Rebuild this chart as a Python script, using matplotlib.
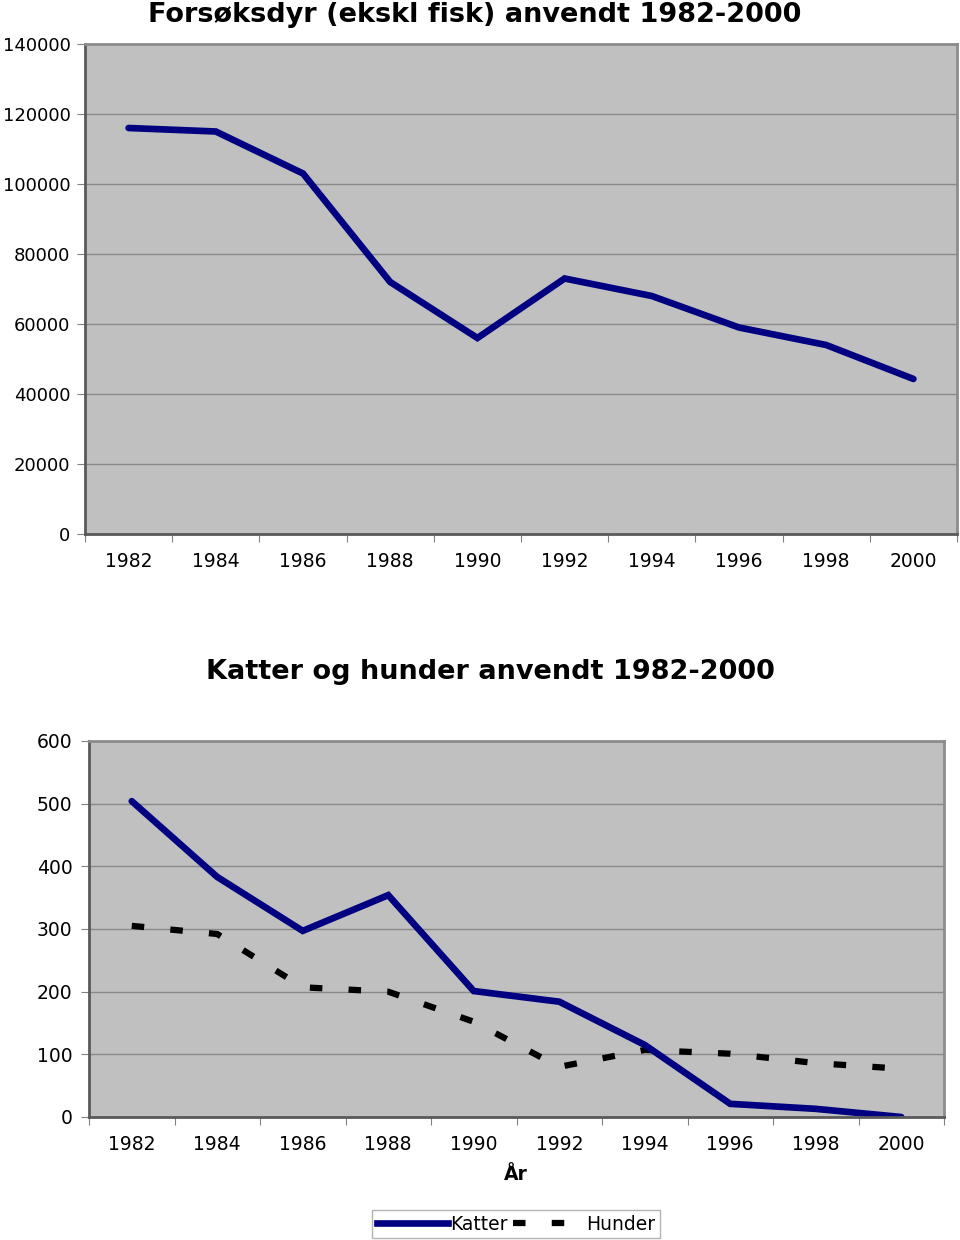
import numpy as np
import matplotlib.pyplot as plt
from matplotlib.lines import Line2D

plt.rcParams['font.family'] = ['DejaVu Sans']

# data
years = ['1982', '1984', '1986', '1988', '1990', '1992', '1994', '1996', '1998', '2000']
forsoksdyr = [116000, 115000, 103000, 72000, 56000, 73000, 68000, 59000, 54000, 44300]
katter = [504, 383, 297, 354, 201, 184, 115, 21, 13, 0]
hunder = [305, 292, 207, 200, 152, 80, 107, 101, 86, 77]

navy = '#000080'
plotbg = '#c0c0c0'
gridc = '#8a8a8a'
dash = (0, (2.0, 4.2))

fig = plt.figure(figsize=(9.6, 12.4), dpi=100)


def style_axes(ax, ymax, ystep, ysize, ypad):
    x = np.arange(len(years))
    ax.set_facecolor(plotbg)
    ax.set_xlim(-0.5, len(years) - 0.5)
    ax.set_ylim(0, ymax)
    ax.set_yticks(np.arange(0, ymax + 1, ystep))
    ax.yaxis.grid(True, color=gridc, lw=1.0)
    ax.set_axisbelow(True)
    # ticks at category boundaries, labels at centres
    ax.set_xticks(np.arange(-0.5, len(years)), minor=False)
    ax.set_xticklabels([])
    ax.set_xticks(x, minor=True)
    ax.set_xticklabels(years, minor=True)
    ax.tick_params(axis='x', which='major', length=6, color='#808080', direction='out')
    ax.tick_params(axis='x', which='minor', length=0, pad=13, labelsize=13.5)
    ax.tick_params(axis='y', length=6, color='#808080', pad=ypad, labelsize=ysize)
    for s in ['top', 'right']:
        ax.spines[s].set_color('#8c8c8c')
        ax.spines[s].set_linewidth(2)
    for s in ['left', 'bottom']:
        ax.spines[s].set_color('#5a5a5a')
        ax.spines[s].set_linewidth(2)
    return x


# top chart
ax1 = fig.add_axes([85/960, 1-534/1240, 872/960, 490/1240])
x = style_axes(ax1, 140000, 20000, 13, 4.5)
ax1.plot(x, forsoksdyr, color=navy, lw=4.8, solid_capstyle='round', solid_joinstyle='miter')
fig.text(475/960, 1-22/1240, 'Forsøksdyr (ekskl fisk) anvendt 1982-2000',
         ha='center', va='baseline', fontsize=19.5, fontweight='bold')

# bottom chart
ax2 = fig.add_axes([89/960, 1-1117/1240, 855/960, 376/1240])
x = style_axes(ax2, 600, 100, 13.5, 6)
ax2.plot(x, hunder, color='black', lw=4.5, linestyle=dash, dash_capstyle='butt')
ax2.plot(x, katter, color=navy, lw=4.8, solid_capstyle='round', solid_joinstyle='miter')
fig.text(490/960, 1-672/1240, 'Katter og hunder anvendt 1982-2000',
         ha='center', va='center', fontsize=19.5, fontweight='bold')
fig.text(516/960, 1-1175/1240, 'År', ha='center', va='center',
         fontsize=13.5, fontweight='bold')

handles = [Line2D([], [], color=navy, lw=4.8),
           Line2D([], [], color='black', lw=4.5, linestyle=dash, dash_capstyle='butt')]
leg = fig.legend(handles, ['Katter', 'Hunder'], ncol=2, loc='center',
                 bbox_to_anchor=(516/960, 1-1224/1240), fontsize=13.5,
                 handlelength=3.8, handletextpad=0.1, columnspacing=0.3,
                 fancybox=False, frameon=True, borderpad=0.25)
leg.get_frame().set_edgecolor('#a0a0a0')
leg.get_frame().set_linewidth(1)

fig.savefig('out.png', dpi=100)
